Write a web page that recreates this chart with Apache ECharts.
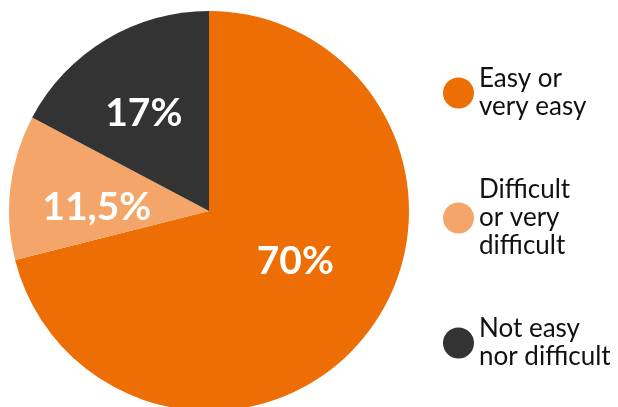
<!DOCTYPE html>
<html>
<head>
<meta charset="utf-8">
<script src="https://cdn.jsdelivr.net/npm/echarts@6/dist/echarts.min.js"></script>
<style>
    html, body { margin: 0; padding: 0; background: #fff; }
    #chart { width: 618px; height: 407px; }
</style>
</head>
<body>
<div id="chart"></div>
<script>
const categories = ["Easy or\nvery easy", "Difficult\nor very\ndifficult", "Not easy\nnor difficult"];
const values = [70, 11.5, 17];
const valueLabels = ["70%", "11,5%", "17%"];
const sliceColors = ["#ec6e04", "#f4a66a", "#333333"];
// nudges so the labels sit where the original put them
const labelOffsets = [[5, -13], [-10, 9], [-12, -9]];

const chart = echarts.init(document.getElementById("chart"));

chart.setOption({
    animation: false,
    color: sliceColors,
    legend: {
        orient: "vertical",
        left: 438,
        top: 60,
        icon: "circle",
        itemWidth: 31,
        itemHeight: 31,
        itemGap: 55,
        selectedMode: false,
        textStyle: {
            fontFamily: "Lato",
            fontSize: 26,
            lineHeight: 28,
            color: "#111111",
            padding: [0, 0, 0, 0]
        },
        data: categories
    },
    series: [
        {
            type: "pie",
            center: [209, 211],
            radius: 200,
            startAngle: 90,
            clockwise: true,
            silent: true,
            label: {
                show: true,
                position: "inside",
                color: "#ffffff",
                fontFamily: "Lato",
                fontWeight: "bold",
                fontSize: 39,
                formatter: params => valueLabels[params.dataIndex]
            },
            labelLine: {
                show: false
            },
            data: categories.map((name, i) => ({
                name,
                value: values[i],
                label: { offset: labelOffsets[i] }
            }))
        }
    ]
});
</script>
</body>
</html>
